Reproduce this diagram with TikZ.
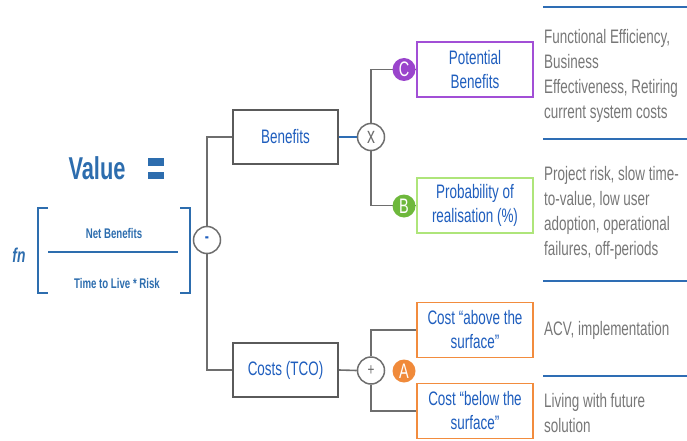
\documentclass[tikz,border=0pt]{standalone}
\usepackage{fontspec}
\setmainfont{Liberation Sans}[FakeStretch=0.69]
\definecolor{fblue}{HTML}{2D6DAE}
\definecolor{tblue}{HTML}{1F5EBE}
\definecolor{lblue}{HTML}{2E6DB4}
\definecolor{dgray}{HTML}{5A5A5A}
\definecolor{cgray}{HTML}{6E6E6E}
\definecolor{rgray}{HTML}{777777}
\definecolor{cpurple}{HTML}{9A44CC}
\definecolor{bpurple}{HTML}{A24FD6}
\definecolor{cgreen}{HTML}{6EB83C}
\definecolor{bgreen}{HTML}{AEE57A}
\definecolor{corange}{HTML}{F08A3A}
\definecolor{borange}{HTML}{F28C3E}
\tikzset{
  mainbox/.style={draw=dgray, line width=2.2pt, fill=white, minimum width=105pt, minimum height=54pt, inner sep=0pt, text=tblue, font=\fontsize{19.5}{24}\selectfont},
  colbox/.style={draw=#1, line width=1.8pt, fill=white, minimum width=116pt, minimum height=55pt, inner sep=0pt, text=tblue, align=center, font=\fontsize{19.5}{24}\selectfont},
  opcirc/.style={circle, draw=cgray, line width=1.5pt, fill=white, minimum size=27pt, inner sep=0pt, font=\fontsize{18}{18}\selectfont},
  letter/.style={circle, fill=#1, minimum size=23pt, inner sep=0pt, text=white, font=\fontsize{21}{21}\selectfont},
  conn/.style={draw=cgray, line width=1.6pt},
  rtext/.style={anchor=north west, inner sep=0pt, text=rgray, align=left, font=\fontsize{19.5}{25}\selectfont},
  sep/.style={draw=lblue, line width=1.5pt},
  ftext/.style={text=fblue, inner sep=0pt}
}
\begin{document}
\begin{tikzpicture}[x=1pt,y=-1pt]
\useasboundingbox (0,0) rectangle (687,441);
% formula
\node[ftext, font=\bfseries\fontsize{31.6}{32}\selectfont] (value) at (97,168) {Value};
\fill[fblue] (148,158) rectangle (164,166);
\fill[fblue] (148,172) rectangle (164,179);
\node[ftext, font=\bfseries\itshape\fontsize{20}{20}\selectfont] (fn) at (19,255) {fn};
\draw[fblue, line width=2.5pt] (48,208) -- (38,208) -- (38,293) -- (48,293);
\draw[fblue, line width=2.5pt] (180,208) -- (190,208) -- (190,293) -- (180,293);
\node[ftext, font=\bfseries\fontsize{14}{14}\selectfont] (nb) at (114,233) {Net Benefits};
\draw[fblue, line width=2pt] (48,252) -- (178,252);
\node[ftext, font=\bfseries\fontsize{14}{14}\selectfont] (ttl) at (117,283) {Time to Live * Risk};
% main boxes
\node[mainbox] (ben) at (285.5,137) {Benefits};
\node[mainbox] (cost) at (285.5,370) {Costs (TCO)};
\node[opcirc, text=cgray, font=\fontsize{23}{23}\selectfont] (xc) at (371,137) {x};
\node[opcirc, text=cgray, font=\fontsize{17}{17}\selectfont] (plus) at (371,370.5) {+};
\node[opcirc, text=tblue, font=\bfseries\fontsize{18}{18}\selectfont] (minus) at (207,240) {-};
\node[colbox=bpurple] (pb) at (475,69.5) {Potential\\Benefits};
\node[colbox=bgreen] (pr) at (475,205.5) {Probability of\\realisation (\%)};
\node[colbox=borange] (ca) at (475,330) {Cost “above the\\surface”};
\node[colbox=borange] (cb) at (475,411) {Cost “below the\\surface”};
% connectors
\draw[conn] (ben.west) -| (minus.north);
\draw[conn] (cost.west) -| (minus.south);
\draw[draw=lblue, line width=1.5pt] (ben.east) -- (xc.west);
\draw[conn] (cost.east) -- (plus.west);
\draw[conn] (xc.north) |- (pb.west);
\draw[conn] (xc.south) |- (pr.west);
\draw[conn] (plus.north) |- (ca.west);
\draw[conn] (plus.south) |- (cb.west);
% letters
\node[letter=cpurple] (lc) at (404,69.5) {C};
\node[letter=cgreen] (lb) at (404,206) {B};
\node[letter=corange] (la) at (404,371) {A};
% right column
\draw[sep] (543,7) -- (687,7);
\draw[sep] (543,139) -- (687,139);
\draw[sep] (543,281) -- (687,281);
\draw[sep] (543,376) -- (687,376);
\node[rtext] (r1) at (544,29) {Functional Efficiency,\\Business\\Effectiveness, Retiring\\current system costs};
\node[rtext] (r2) at (544,166) {Project risk, slow time-\\to-value, low user\\adoption, operational\\failures, off-periods};
\node[rtext] (r3) at (544,321) {ACV, implementation};
\node[rtext] (r4) at (544,393) {Living with future\\solution};
\end{tikzpicture}
\end{document}
